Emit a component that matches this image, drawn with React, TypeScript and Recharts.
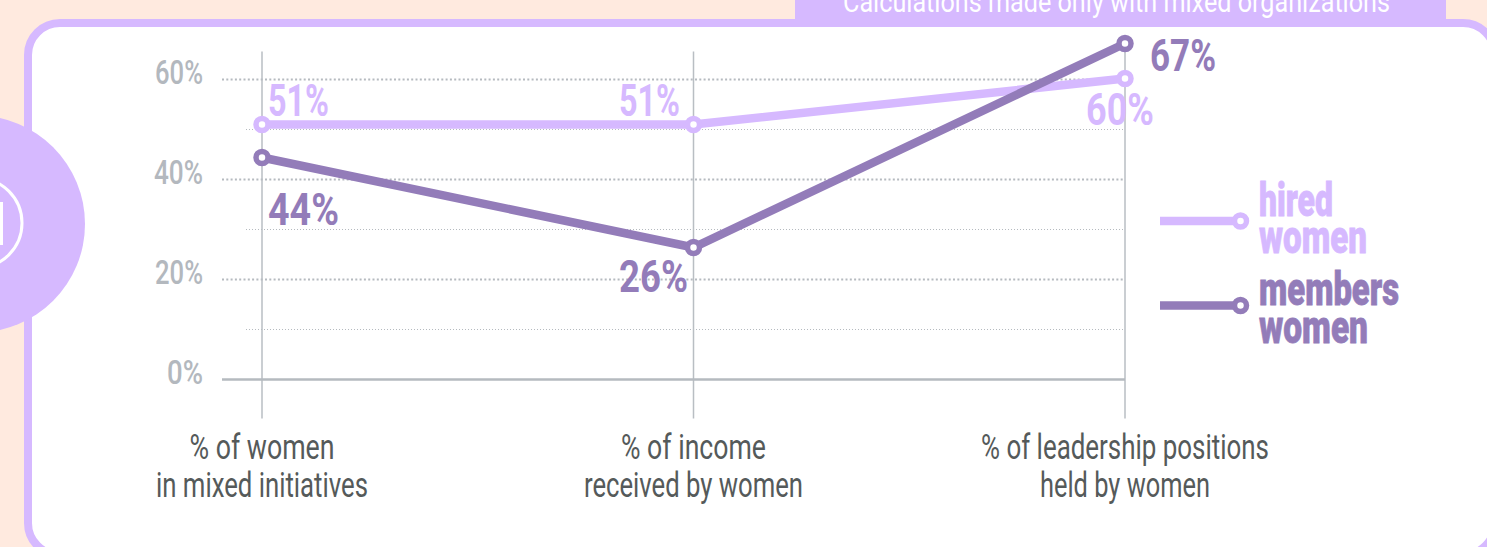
import { CartesianGrid, Legend, LabelList, Line, LineChart, ReferenceLine, XAxis, YAxis } from "recharts";

const categories = ["% of women\nin mixed initiatives", "% of income\nreceived by women", "% of leadership positions\nheld by women"];
const hiredWomen = [51, 51, 60.2];
const membersWomen = [44.4, 26.4, 67.2];
const yTicks = [0, 20, 40, 60];
const majorLines = [20, 40, 60];
const minorLines = [10, 30, 50];

const LIGHT = "#D6B9FF";
const DARK = "#937CB9";
const PEACH = "#FFEADF";
const GRID = "#B5BABF";
const NARROW = "Roboto, sans-serif";

const chartData = categories.map((name, i) => ({ name, hired: hiredWomen[i], members: membersWomen[i] }));

// pixel widths of the condensed type, measured on the reference
const textWidths: Record<string, number> = {
  "0%": 36,
  "20%": 48,
  "40%": 49,
  "60%": 48,
  "% of women": 145,
  "in mixed initiatives": 212,
  "% of income": 145,
  "received by women": 219,
  "% of leadership positions": 288,
  "held by women": 170,
};

// label placement relative to its point: [dx, dy, width]
const hiredLabelPos = [[6, -9, 61], [-74.5, -9, 61], [-39, 46, 68]];
const memberLabelPos = [[6, 67.5, 71], [-74.5, 44, 69], [25, 27, 66]];

const YTick = ({ x, y, payload }: any) => {
  const label = `${payload.value}%`;
  return (
    <text x={x} y={y + 4.5} textAnchor="end" fontFamily={NARROW} fontWeight={500} fontSize={33} fill="#B3B8BE" textLength={textWidths[label]} lengthAdjust="spacingAndGlyphs">
      {label}
    </text>
  );
};

const XTick = ({ x, y, payload }: any) => {
  const lines: string[] = String(payload.value).split("\n");
  return (
    <g>
      {lines.map((line, i) => (
        <text key={line} x={x} y={y + 33 + i * 38} textAnchor="middle" fontFamily={NARROW} fontSize={35} fill="#555A5A" textLength={textWidths[line]} lengthAdjust="spacingAndGlyphs">
          {line}
        </text>
      ))}
    </g>
  );
};

const pointLabel = (positions: number[][], color: string) => (props: any) => {
  const { x, y, value, index } = props;
  const [dx, dy, width] = positions[index];
  return (
    <text x={x + dx} y={y + dy} fontFamily={NARROW} fontWeight={700} fontSize={45} fill={color} textLength={width} lengthAdjust="spacingAndGlyphs">
      {Math.round(value)}%
    </text>
  );
};

const legendRows = [
  { lineY: 221, baselines: [216, 253], widths: [74, 108] },
  { lineY: 305.5, baselines: [305, 343], widths: [140, 109] },
];

const LegendContent = ({ payload }: any) => (
  <svg width={1487} height={547} style={{ display: "block" }}>
    {(payload || []).map((entry: any, i: number) => {
      const row = legendRows[i];
      return (
        <g key={entry.value}>
          <line x1={1160} x2={1240} y1={row.lineY} y2={row.lineY} stroke={entry.color} strokeWidth={8.5} />
          <circle cx={1240.5} cy={row.lineY} r={6} fill="#fff" stroke={entry.color} strokeWidth={5.5} />
          {String(entry.value).split(" ").map((word, j) => (
            <text key={word} x={1259} y={row.baselines[j]} fontFamily={NARROW} fontWeight={900} fontSize={46} fill={entry.color} stroke={entry.color} strokeWidth={0.8} textLength={row.widths[j]} lengthAdjust="spacingAndGlyphs">
              {word}
            </text>
          ))}
        </g>
      );
    })}
  </svg>
);

const MinorLine = ({ x1, x2, y1 }: any) => (
  <line x1={x1 + 24} x2={x2} y1={y1} y2={y1} stroke={GRID} strokeWidth={1} strokeDasharray="1 2" />
);

const App = () => {
  return (
    <div style={{ position: "absolute", left: 0, top: 0, width: 1487, height: 547, overflow: "hidden", background: PEACH }}>
      <div style={{ position: "absolute", left: 24, top: 19, width: 1475, height: 540, boxSizing: "border-box", border: `8px solid ${LIGHT}`, borderRadius: 36, background: "#fff" }} />
      <svg width={1487} height={547} style={{ position: "absolute", left: 0, top: 0 }}>
        <circle cx={-23.6} cy={224} r={108.6} fill={LIGHT} />
        <circle cx={-23} cy={223} r={45} fill="none" stroke="#fff" strokeWidth={3} />
        <rect x={-6} y={202} width={9} height={43} fill="#fff" />
        <rect x={795} y={0} width={651} height={27} fill={LIGHT} />
        <text x={843} y={12} fontFamily={NARROW} fontSize={29} fill="#fff" textLength={547} lengthAdjust="spacingAndGlyphs">
          Calculations made only with mixed organizations
        </text>
      </svg>
      <div style={{ position: "absolute", left: 0, top: 0 }}>
        <LineChart width={1487} height={547} data={chartData} margin={{ top: 29.5, right: 362, bottom: 0, left: 0 }}>
          <CartesianGrid vertical={false} horizontalValues={majorLines} stroke={GRID} strokeWidth={2} strokeDasharray="2 2.3" />
          <XAxis dataKey="name" interval={0} height={127.5} padding={{ left: 40, right: 0 }} axisLine={false} tickLine={false} tickMargin={0} tick={<XTick />} />
          <YAxis type="number" domain={[-8, 70]} ticks={yTicks} width={222} axisLine={false} tickLine={false} tickMargin={13} tick={<YTick />} />
          {minorLines.map((v) => (
            <ReferenceLine key={v} y={v} shape={<MinorLine />} />
          ))}
          {categories.map((c) => (
            <ReferenceLine key={c} segment={[{ x: c, y: -7.8 }, { x: c, y: 65.6 }]} stroke="#B9BEC3" strokeWidth={1.5} />
          ))}
          <ReferenceLine y={0} stroke={GRID} strokeWidth={2.5} />
          <Line type="linear" dataKey="hired" name="hired women" stroke={LIGHT} strokeWidth={8.5} isAnimationActive={false} dot={{ r: 6, fill: "#fff", stroke: LIGHT, strokeWidth: 5.5 }}>
            <LabelList dataKey="hired" content={pointLabel(hiredLabelPos, LIGHT)} />
          </Line>
          <Line type="linear" dataKey="members" name="members women" stroke={DARK} strokeWidth={8.5} isAnimationActive={false} dot={{ r: 6, fill: "#fff", stroke: DARK, strokeWidth: 5.5 }}>
            <LabelList dataKey="members" content={pointLabel(memberLabelPos, DARK)} />
          </Line>
          <Legend layout="vertical" align="center" verticalAlign="middle" content={<LegendContent />} wrapperStyle={{ left: 0, top: 0, width: 1487, height: 547, pointerEvents: "none" }} />
        </LineChart>
      </div>
    </div>
  );
};

export default App;
